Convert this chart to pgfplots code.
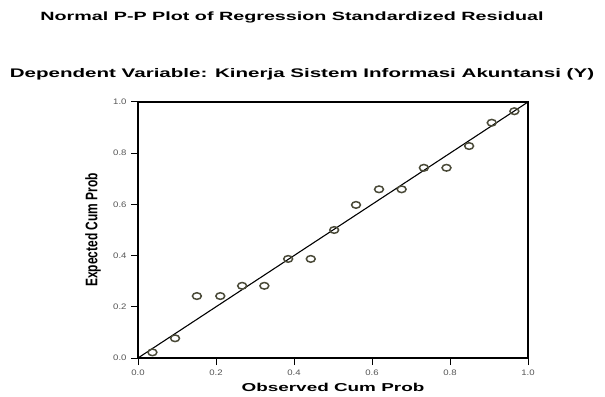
\documentclass[border=0pt]{standalone}
\usepackage{pgfplots}
\pgfplotsset{compat=1.18}
\usepackage{fontspec}
\setmainfont{Liberation Sans}
\newfontfamily\widefont[FakeStretch=1.65]{Liberation Sans}
\newfontfamily\tickfont[FakeStretch=1.2]{Liberation Sans}
\definecolor{markc}{HTML}{4A4A38}
\definecolor{tickc}{HTML}{555555}
\begin{document}
\begin{tikzpicture}
\useasboundingbox (0,0) rectangle (605bp,397bp);
\begin{axis}[
  at={(138bp,39bp)}, anchor=south west,
  scale only axis, width=390bp, height=256bp,
  xmin=0, xmax=1, ymin=0, ymax=1,
  xtick={0,0.2,...,1.0}, ytick={0,0.2,...,1.0},
  xticklabels={0.0,0.2,0.4,0.6,0.8,1.0},
  yticklabels={0.0,0.2,0.4,0.6,0.8,1.0},
  tick align=outside, tick pos=left,
  major tick length=7bp,
  tick style={black, line width=1pt},
  axis line style={black, line width=1.2pt},
  /pgf/number format/assume math mode=true,
  ticklabel style={font=\tickfont\fontsize{8}{9}\selectfont, text=tickc},
  xticklabel style={yshift=-1bp},
  yticklabel style={xshift=-1bp},
  xlabel={\widefont\bfseries\fontsize{11.5}{13}\selectfont Observed Cum Prob},
  xlabel style={at={(axis description cs:0.5,0)}, anchor=base, yshift=-33bp},
  ylabel={\scalebox{1}[1.4]{\bfseries\fontsize{12}{13}\selectfont Expected Cum Prob}},
  ylabel style={at={(axis description cs:0,0.5)}, anchor=center, yshift=45bp},
]
\addplot[black, line width=1.1pt, no marks] coordinates {(0,0) (1,1)};
\addplot[only marks, mark=o, mark size=3.3bp, mark options={draw=markc, line width=1.5pt, xscale=1.35}] coordinates {
(0.037,0.022) (0.095,0.077) (0.151,0.242) (0.211,0.242) (0.267,0.282)
(0.324,0.282) (0.385,0.387) (0.443,0.387) (0.503,0.500) (0.559,0.598)
(0.618,0.659) (0.676,0.659) (0.733,0.743) (0.791,0.743) (0.849,0.828)
(0.907,0.919) (0.965,0.964)
};
\end{axis}
\node[anchor=base, inner sep=0] at (292bp,376bp) {\widefont\bfseries\fontsize{12}{14}\selectfont Normal P-P Plot of Regression Standardized Residual};
\node[anchor=base, inner sep=0] at (302bp,319bp) {\widefont\bfseries\fontsize{12.5}{14}\selectfont Dependent Variable: Kinerja Sistem Informasi Akuntansi (Y)};
\end{tikzpicture}
\end{document}
